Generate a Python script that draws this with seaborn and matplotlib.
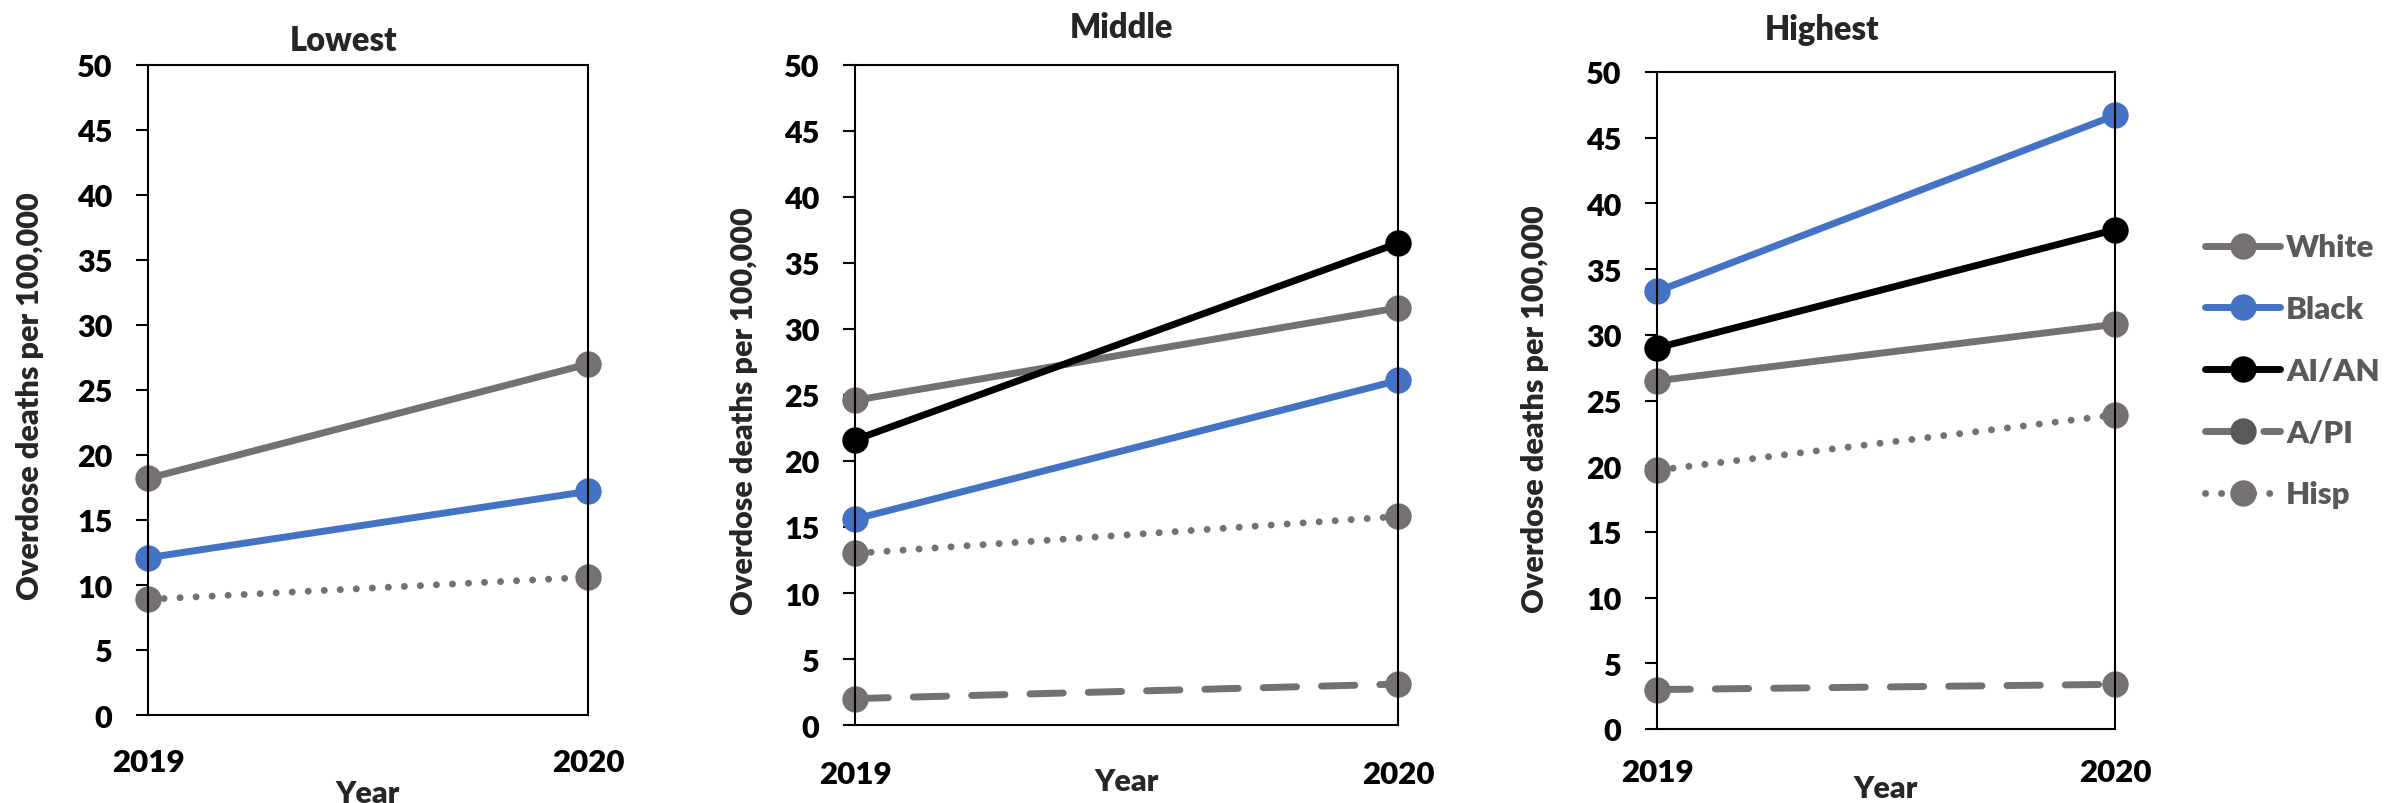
import numpy as np
import pandas as pd
import matplotlib
matplotlib.use("Agg")
import matplotlib.pyplot as plt
from matplotlib.lines import Line2D
import seaborn as sns

# ---------------- data ----------------
years = [2019, 2020]
groups = ["White", "Black", "AI/AN", "A/PI", "Hisp"]
panels = ["Lowest", "Middle", "Highest"]

lowest_white = [18.2, 27.0]
lowest_black = [12.1, 17.2]
lowest_aian = [None, None]
lowest_api = [None, None]
lowest_hisp = [8.9, 10.6]

middle_white = [24.6, 31.6]
middle_black = [15.6, 26.1]
middle_aian = [21.6, 36.5]
middle_api = [2.0, 3.1]
middle_hisp = [13.0, 15.8]

highest_white = [26.5, 30.8]
highest_black = [33.3, 46.7]
highest_aian = [29.0, 38.0]
highest_api = [3.0, 3.4]
highest_hisp = [19.7, 23.9]

y_ticks = list(range(0, 51, 5))
x_tick_labels = ["2019", "2020"]
y_label = "Overdose deaths per 100,000"
x_label = "Year"

series = {
    "Lowest": [lowest_white, lowest_black, lowest_aian, lowest_api, lowest_hisp],
    "Middle": [middle_white, middle_black, middle_aian, middle_api, middle_hisp],
    "Highest": [highest_white, highest_black, highest_aian, highest_api, highest_hisp],
}

rows = []
for p in panels:
    for g, vals in zip(groups, series[p]):
        for yr, v in zip(years, vals):
            if v is not None:
                rows.append({"Panel": p, "Group": g, "Year": yr, "Rate": v})
df = pd.DataFrame(rows)

# ---------------- style ----------------
sns.set_style("white")
plt.rcParams["font.family"] = ["Lato", "DejaVu Sans"]
plt.rcParams["font.weight"] = "heavy"

GRAY = "#767171"
palette = {"White": GRAY, "Black": "#4472C4", "AI/AN": "#000000",
           "A/PI": GRAY, "Hisp": GRAY}
legend_marker = {"White": GRAY, "Black": "#4472C4", "AI/AN": "#000000",
                 "A/PI": "#595959", "Hisp": GRAY}
markers = {g: "o" for g in groups}
dashes = {"White": "", "Black": "", "AI/AN": "", "A/PI": (4.8, 3.6),
          "Hisp": (0.01, 2.3)}
LW, MS = 5, 19

W, H = 2387, 804
fig = plt.figure(figsize=(W / 100, H / 100), dpi=100)

# axes boxes in pixels: left, right, top, bottom
boxes = {
    "Lowest": (148, 588, 66, 716),
    "Middle": (855, 1398, 66, 726),
    "Highest": (1657, 2115, 73, 730),
}
title_x = {"Lowest": 0.445, "Middle": 0.49, "Highest": 0.36}
title_pad = {"Lowest": 11, "Middle": 20, "Highest": 24}
xtick_pad = {"Lowest": 24, "Middle": 25, "Highest": 21}
ylab_pos = {"Lowest": (-0.269, 0.492), "Middle": (-0.204, 0.477),
            "Highest": (-0.267, 0.489)}
xlab_pos = {"Lowest": -0.098, "Middle": -0.064, "Highest": -0.068}

FS = 22
WEIGHT = "heavy"
axes = {}
for p in panels:
    l, r, t, b = boxes[p]
    ax = fig.add_axes([l / W, 1 - b / H, (r - l) / W, (b - t) / H])
    axes[p] = ax
    sub = df[df["Panel"] == p]
    order = [g for g in groups if g in sub["Group"].unique()]
    sns.lineplot(data=sub, x="Year", y="Rate", hue="Group", style="Group",
                 hue_order=order, style_order=order,
                 palette=palette, markers=markers, dashes=dashes,
                 linewidth=LW, markersize=MS, markeredgewidth=0,
                 dash_capstyle="round", clip_on=False,
                 errorbar=None, legend=False, ax=ax)
    ax.set_xlim(2019, 2020)
    ax.set_ylim(0, 50)
    ax.set_xticks(years)
    ax.set_xticklabels(x_tick_labels)
    ax.set_yticks(y_ticks)
    ax.tick_params(axis="y", left=True, length=8.6, width=1.5,
                   color="black", labelsize=FS, pad=17, direction="out")
    ax.tick_params(axis="x", bottom=True, length=0, labelsize=FS + 0.5,
                   pad=xtick_pad[p])
    for lab in ax.get_xticklabels() + ax.get_yticklabels():
        lab.set_fontweight(WEIGHT)
        lab.set_color("black")
    for s in ax.spines.values():
        s.set_visible(True)
        s.set_color("black")
        s.set_linewidth(1.5)
    ax.set_title(p, fontsize=23.5, fontweight=WEIGHT, x=title_x[p],
                 pad=title_pad[p])
    ax.set_ylabel(y_label, fontsize=22, fontweight=WEIGHT, va="center")
    ax.yaxis.set_label_coords(*ylab_pos[p])
    ax.set_xlabel(x_label, fontsize=FS, fontweight=WEIGHT)
    ax.xaxis.set_label_coords(0.5, xlab_pos[p])

# legend
handles = []
for g in groups:
    d = dashes[g]
    h = Line2D([0], [0], color=palette[g], linewidth=LW, marker="o",
               markersize=MS, markeredgewidth=0,
               markerfacecolor=legend_marker[g], dash_capstyle="round",
               solid_capstyle="round")
    if d:
        h.set_dashes(d)
    handles.append(h)
leg = fig.legend(handles=handles, labels=groups, loc="center left",
                 bbox_to_anchor=(2205 / W, 1 - 372 / H),
                 frameon=False, fontsize=22.5, numpoints=1,
                 handlelength=2.4, handletextpad=0.2, labelspacing=1.08,
                 borderpad=0, borderaxespad=0)
for txt in leg.get_texts():
    txt.set_color("#595959")
    txt.set_fontweight(WEIGHT)

fig.savefig("out.png", dpi=100)
